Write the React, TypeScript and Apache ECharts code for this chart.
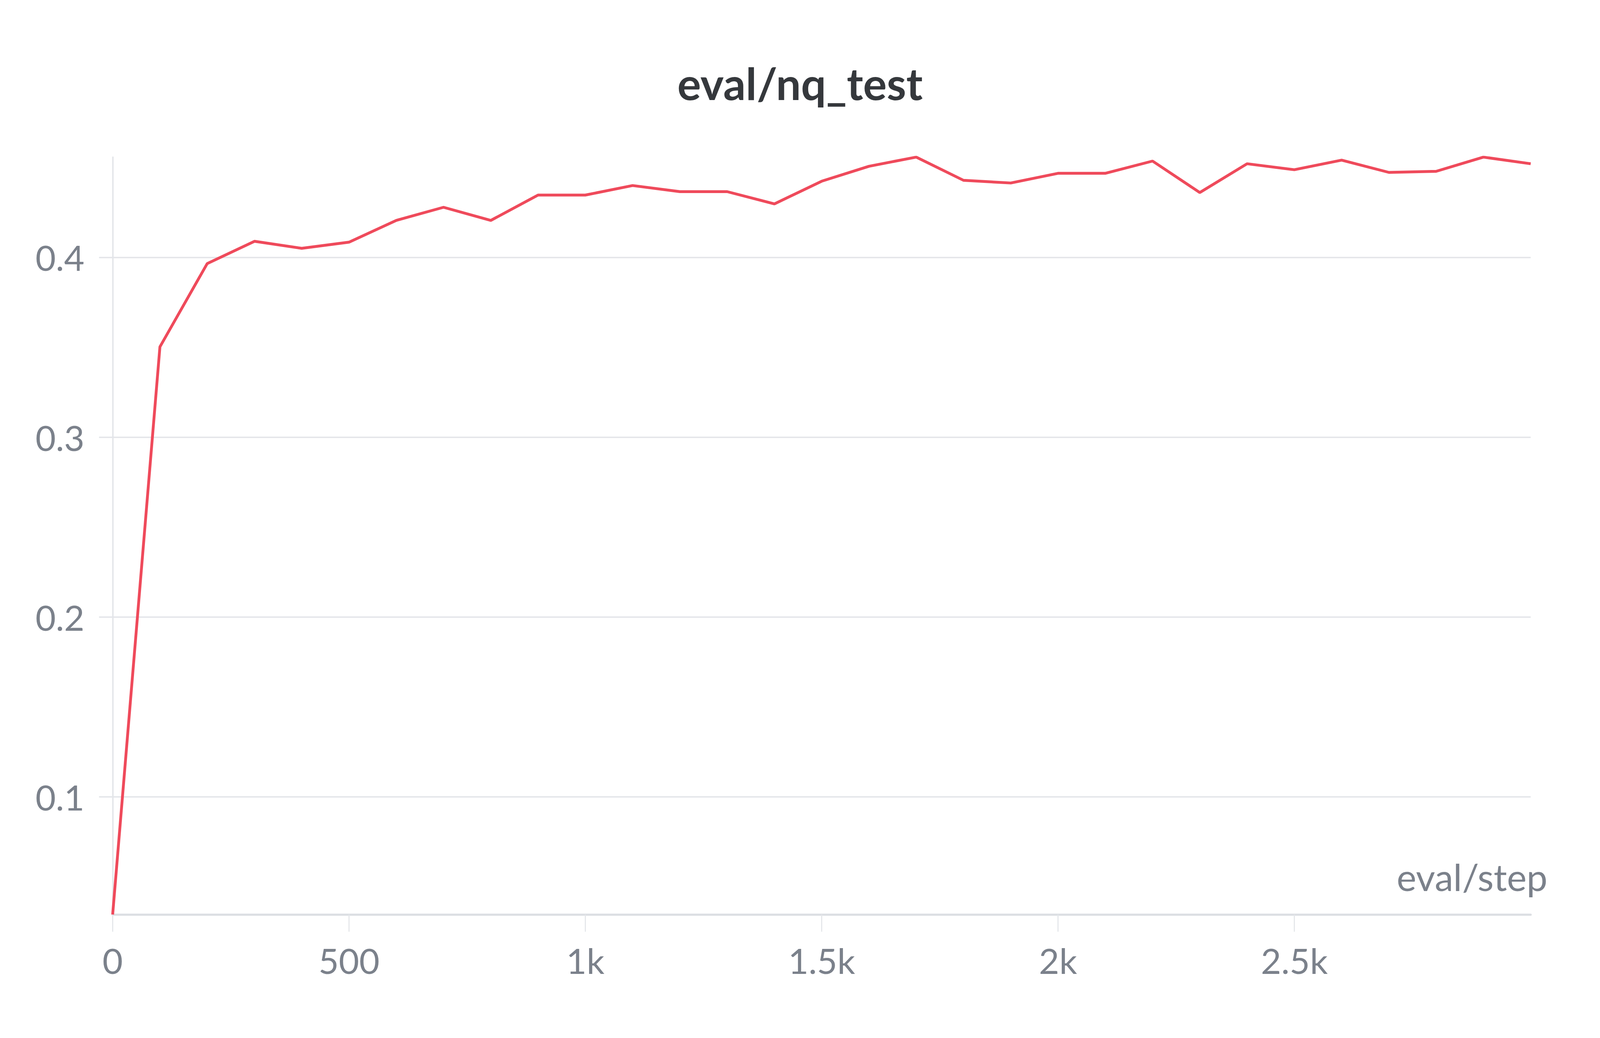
import React, { useEffect, useRef } from 'react';
import * as echarts from 'echarts';

const steps = [
  0, 100, 200, 300, 400, 500, 600, 700, 800, 900, 1000, 1100, 1200, 1300, 1400, 1500,
  1600, 1700, 1800, 1900, 2000, 2100, 2200, 2300, 2400, 2500, 2600, 2700, 2800, 2900, 3000,
];
const nqTest = [
  0.0346, 0.3502, 0.3965, 0.4089, 0.405, 0.4084, 0.4205, 0.4278, 0.4205, 0.4346, 0.4346,
  0.4399, 0.4365, 0.4365, 0.4297, 0.4423, 0.4506, 0.4557, 0.4428, 0.4413, 0.4467, 0.4467,
  0.4535, 0.436, 0.452, 0.4487, 0.454, 0.4472, 0.4478, 0.4557, 0.452,
];
const xTicks = [0, 500, 1000, 1500, 2000, 2500];
const xTickLabels = ['0', '500', '1k', '1.5k', '2k', '2.5k'];
const yTicks = [0.1, 0.2, 0.3, 0.4];
const yTickLabels = ['0.1', '0.2', '0.3', '0.4'];

const FONT = 'Lato';
const GRID = '#e3e5e9';
const LABEL = '#7b818b';

// layout measured on a 5056 x 2656 canvas, scaled to whatever the page gives
const BASE_W = 5056;
const BASE_H = 2656;

const App: React.FC = () => {
  const chartRef = useRef<HTMLDivElement | null>(null);

  useEffect(() => {
    const el = chartRef.current!;
    const chart = echarts.init(el, null, { renderer: 'svg' });
    const w = el.clientWidth || BASE_W;
    const h = el.clientHeight || BASE_H;
    const sx = w / BASE_W;
    const sy = h / BASE_H;
    const s = Math.sqrt(sx * sy);

    const option = {
      animation: false,
      backgroundColor: '#ffffff',
      title: {
        text: 'eval/nq_test',
        left: 'center',
        top: 150 * sy,
        textStyle: { fontFamily: FONT, fontSize: 126 * s, fontWeight: 'bold', color: '#35383c' },
      },
      grid: { left: 356 * sx, right: 219 * sx, top: 402 * sy, bottom: 316 * sy },
      xAxis: {
        type: 'value',
        min: 0,
        max: 'dataMax',
        name: 'eval/step',
        nameLocation: 'end',
        nameGap: 53 * sx,
        nameTextStyle: {
          fontFamily: FONT,
          fontSize: 106 * s,
          color: LABEL,
          align: 'right',
          verticalAlign: 'bottom',
          padding: [0, 0, 50 * sy, 0],
        },
        axisLine: { show: true, lineStyle: { color: '#dcdfe3', width: 6 * s } },
        axisTick: {
          show: true,
          length: 44 * sy,
          customValues: xTicks,
          lineStyle: { color: GRID, width: 3 * s },
        },
        axisLabel: {
          customValues: xTicks,
          margin: 72 * sy,
          fontFamily: FONT,
          fontSize: 100 * s,
          color: LABEL,
          formatter: (v: number) => xTickLabels[xTicks.indexOf(v)] ?? String(v),
        },
        splitLine: { show: false },
      },
      yAxis: {
        type: 'value',
        min: 'dataMin',
        max: 'dataMax',
        axisLine: { show: true, lineStyle: { color: GRID, width: 4 * s } },
        axisTick: {
          show: true,
          length: 43 * sx,
          customValues: yTicks,
          lineStyle: { color: GRID, width: 4 * s },
        },
        axisLabel: {
          customValues: yTicks,
          margin: 89 * sx,
          fontFamily: FONT,
          fontSize: 100 * s,
          color: LABEL,
          formatter: (v: number) => yTickLabels[yTicks.indexOf(v)] ?? String(v),
        },
        splitLine: { show: true, lineStyle: { color: GRID, width: 4 * s } },
      },
      series: [
        {
          name: 'eval/nq_test',
          type: 'line',
          data: steps.map((st, i) => [st, nqTest[i]]),
          showSymbol: false,
          smooth: false,
          lineStyle: { color: '#ef4a5b', width: 8 * s },
          itemStyle: { color: '#ef4a5b' },
        },
      ],
    };

    chart.setOption(option);

    return () => {
      chart.dispose();
    };
  }, []);

  return (
    <div
      ref={chartRef}
      style={{ position: 'fixed', left: 0, top: 0, width: '100vw', height: '100vh' }}
    />
  );
};

export default App;
